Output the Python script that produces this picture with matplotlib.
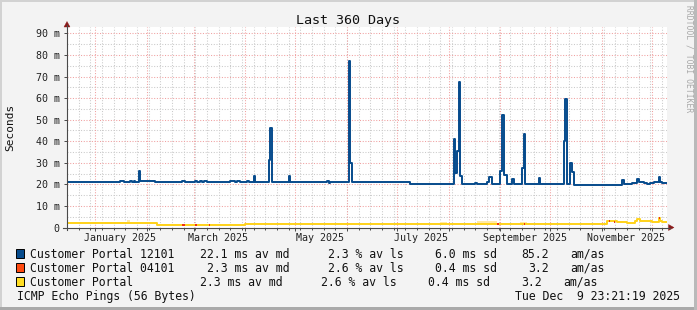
import numpy as np
import matplotlib
matplotlib.use('Agg')
import matplotlib.pyplot as plt
import matplotlib.dates as mdates
from matplotlib.patches import Rectangle, Polygon
from matplotlib.lines import Line2D

# ---------------- data ----------------
t_start = '2024-12-14T23:21'
t_end = '2025-12-09T23:21'

blue_dates = ['2024-12-15', '2025-01-16', '2025-01-18', '2025-01-22', '2025-01-23', '2025-01-24',
              '2025-01-25', '2025-01-27', '2025-01-28', '2025-02-06', '2025-02-22', '2025-02-24',
              '2025-03-02', '2025-03-03', '2025-03-05', '2025-03-06', '2025-03-07', '2025-03-09',
              '2025-03-23', '2025-03-26', '2025-03-27', '2025-03-29', '2025-04-02', '2025-04-03',
              '2025-04-06', '2025-04-07', '2025-04-15', '2025-04-16', '2025-04-17', '2025-04-27',
              '2025-04-28', '2025-05-20', '2025-05-21', '2025-05-22', '2025-06-02', '2025-06-03',
              '2025-06-04', '2025-07-09', '2025-07-17', '2025-07-21', '2025-07-23', '2025-07-24',
              '2025-07-28', '2025-07-31', '2025-08-02', '2025-08-03', '2025-08-04', '2025-08-05',
              '2025-08-06', '2025-08-07', '2025-08-08', '2025-08-09', '2025-08-17', '2025-08-18',
              '2025-08-24', '2025-08-25', '2025-08-27', '2025-09-01', '2025-09-02', '2025-09-03',
              '2025-09-05', '2025-09-08', '2025-09-09', '2025-09-14', '2025-09-15', '2025-09-16',
              '2025-09-24', '2025-09-25', '2025-10-09', '2025-10-10', '2025-10-11', '2025-10-13',
              '2025-10-14', '2025-10-15', '2025-11-13', '2025-11-14', '2025-11-19', '2025-11-22',
              '2025-11-23', '2025-11-26', '2025-11-28', '2025-11-30', '2025-12-02', '2025-12-05',
              '2025-12-06', '2025-12-07', '2025-12-09T18:00']
blue_vals = [21.0, 21.5, 21.0, 21.5, 21.0, 21.8,
             21.0, 26.0, 21.4, 21.0, 21.4, 21.0,
             21.4, 21.0, 21.4, 21.0, 21.4, 21.0,
             21.4, 21.0, 21.4, 21.0, 21.4, 21.0,
             23.7, 21.0, 31.4, 46.3, 21.0, 24.0,
             21.0, 21.7, 20.6, 21.0, 77.0, 29.7,
             21.0, 20.0, 20.4, 20.0, 20.4, 20.0,
             20.4, 20.0, 20.4, 20.0, 41.2, 25.4,
             35.6, 67.3, 24.0, 20.2, 20.5, 20.2,
             21.0, 23.5, 20.2, 26.4, 52.0, 24.5,
             20.2, 22.3, 20.2, 27.7, 43.2, 20.2,
             22.8, 20.2, 39.9, 59.7, 20.2, 29.7,
             25.7, 19.9, 22.1, 20.2, 20.6, 22.4,
             21.2, 20.6, 20.2, 20.8, 21.1, 23.2,
             21.3, 20.6, 20.6]

yel_dates = ['2024-12-15', '2024-12-21', '2024-12-23', '2025-02-07', '2025-04-01', '2025-11-04',
             '2025-11-10', '2025-11-16', '2025-11-21', '2025-11-22', '2025-11-24', '2025-12-01',
             '2025-12-05', '2025-12-06', '2025-12-07', '2025-12-09T18:00']
yel_vals = [2.0, 2.3, 2.0, 1.3, 1.8, 3.1,
            2.6, 2.3, 3.0, 4.0, 3.0, 2.6,
            4.5, 3.2, 2.6, 2.6]

# pale band patches around the yellow line
band_start = ['2024-12-29', '2025-01-07', '2025-01-15', '2025-01-20', '2025-01-31', '2025-02-07',
              '2025-04-04', '2025-04-20', '2025-05-16', '2025-07-27', '2025-08-18', '2025-09-13',
              '2025-09-25', '2025-10-18']
band_end = ['2025-01-01', '2025-01-11', '2025-01-19', '2025-01-22', '2025-02-07', '2025-02-15',
            '2025-04-14', '2025-04-26', '2025-06-01', '2025-07-31', '2025-08-30', '2025-09-17',
            '2025-10-03', '2025-10-31']
band_top = [2.4, 2.5, 2.5, 3.3, 2.3, 1.8, 2.2, 2.2, 2.2, 2.4, 2.9, 2.4, 2.3, 2.1]
band_bot = [1.6, 1.6, 1.6, 1.6, 1.5, 1.0, 1.4, 1.4, 1.4, 1.4, 1.4, 1.4, 1.4, 1.4]

# visible bits of the red (04101) series
red_start = ['2025-02-22', '2025-03-02', '2025-03-10', '2025-08-30', '2025-09-15', '2025-11-05',
             '2025-11-08', '2025-12-05']
red_end = ['2025-02-24', '2025-03-03', '2025-03-11', '2025-08-31', '2025-09-16', '2025-11-06',
           '2025-11-09', '2025-12-06']
red_vals = [1.3, 1.3, 1.3, 1.8, 1.8, 3.1, 2.6, 4.5]

y_ticks = [0, 10, 20, 30, 40, 50, 60, 70, 80, 90]
y_labels = ['0', '10 m', '20 m', '30 m', '40 m', '50 m', '60 m', '70 m', '80 m', '90 m']
month_label_dates = ['2025-01-15T12:00', '2025-03-15T12:00', '2025-05-15T12:00',
                     '2025-07-15T12:00', '2025-09-15T12:00', '2025-11-15T12:00']
month_labels = ['January 2025', 'March 2025', 'May 2025', 'July 2025',
                'September 2025', 'November 2025']

legend_names = ['Customer Portal 12101', 'Customer Portal 04101', 'Customer Portal']
legend_md = ['22.1 ms av md', '2.3 ms av md', '2.3 ms av md']
legend_ls = ['2.3 % av ls', '2.6 % av ls', '2.6 % av ls']
legend_sd = ['6.0 ms sd', '0.4 ms sd', '0.4 ms sd']
legend_amas = ['85.2', '3.2', '3.2']

# ---------------- style ----------------
W, H = 697, 310
BG = '#F3F3F3'
MONO = 'DejaVu Sans Mono'
BLUE = '#064B8C'
YEL = '#FFD21A'
PALE = '#FFE9A6'
RED = '#F03010'
AXC = '#4A4A4A'
ARROW = '#8A1A1A'
MINOR = '#CACACA'
MAJOR = '#F0A0A0'

def d(s):
    return mdates.date2num(np.datetime64(s, 'm'))

def dn(lst):
    return np.array([d(s) for s in lst])

fig = plt.figure(figsize=(W / 100, H / 100), dpi=100, facecolor=BG)

def fx(x):
    return x / W

def fy(y):
    return 1 - y / H

AX_L, AX_R, AX_B, AX_T = 67, 667, 227.5, 27
ax = fig.add_axes([fx(AX_L), fy(AX_B), (AX_R - AX_L) / W, (AX_B - AX_T) / H])
ax.set_facecolor('white')
for s in ax.spines.values():
    s.set_visible(False)

x0, x1 = d(t_start), d(t_end)
YTOP = 93.0
ax.set_xlim(x0, x1)
ax.set_ylim(0, YTOP)

# grid
weeks = np.arange(np.datetime64('2024-12-15'), np.datetime64('2025-12-10'), np.timedelta64(7, 'D'))
months = np.arange(np.datetime64('2025-01'), np.datetime64('2026-01'), dtype='datetime64[M]').astype('datetime64[D]')
wk = np.array([mdates.date2num(w) for w in weeks])
mo = np.array([mdates.date2num(m) for m in months])
dots = (0, (1, 1.6))
ax.vlines(wk, 0, YTOP, colors=MINOR, linestyles=dots, lw=0.75, zorder=1)
ax.hlines([5, 15, 25, 35, 45, 55, 65, 75, 85], x0, x1, colors=MINOR, linestyles=dots, lw=0.75, zorder=1)
ax.vlines(mo, 0, YTOP, colors=MAJOR, linestyles=dots, lw=0.75, zorder=1.2)
ax.hlines(y_ticks[1:], x0, x1, colors=MAJOR, linestyles=dots, lw=0.75, zorder=1.2)

# data
for s, e, t, b in zip(band_start, band_end, band_top, band_bot):
    ax.fill_between([d(s), d(e)], [b, b], [t, t], color=PALE, lw=0, zorder=2)
ax.step(dn(yel_dates), yel_vals, where='post', color=YEL, lw=1.4, zorder=3)
for s, e, v in zip(red_start, red_end, red_vals):
    ax.hlines(v, d(s), d(e), colors=RED, lw=1.4, zorder=3.5)
ax.step(dn(blue_dates), blue_vals, where='post', color=BLUE, lw=1.4, zorder=5)

# ticks
ax.set_xticks(mo)
ax.set_xticks(wk, minor=True)
ax.tick_params(axis='x', which='major', length=2.5, width=0.7, color=AXC, direction='out', labelbottom=False)
ax.tick_params(axis='x', which='minor', length=1.5, width=0.7, color=AXC, direction='out')
ax.set_yticks(y_ticks)
ax.set_yticklabels(y_labels, fontsize=7.2, family=MONO, color='#222222')
ax.tick_params(axis='y', which='major', length=2.2, width=0.7, color=AXC, pad=3.2)

for ds, lab in zip(month_label_dates, month_labels):
    ax.text(d(ds), -(241 - AX_B) / (AX_B - AX_T), lab, transform=ax.get_xaxis_transform(),
            ha='center', va='baseline', fontsize=7.2, family=MONO, color='#222222')

# axes lines and arrows
fig.add_artist(Line2D([fx(67), fx(67)], [fy(AX_B + 2), fy(25)], color=AXC, lw=0.8))
fig.add_artist(Line2D([fx(63), fx(670)], [fy(AX_B), fy(AX_B)], color=AXC, lw=0.8))
fig.add_artist(Polygon([[fx(64), fy(27)], [fx(70), fy(27)], [fx(67), fy(21.5)]],
                       closed=True, transform=fig.transFigure, fc=ARROW, ec=ARROW, lw=0.3))
fig.add_artist(Polygon([[fx(668.5), fy(AX_B - 3)], [fx(668.5), fy(AX_B + 3)], [fx(674), fy(AX_B)]],
                       closed=True, transform=fig.transFigure, fc=ARROW, ec=ARROW, lw=0.3))

# titles
fig.text(0.5, fy(24), 'Last 360 Days', ha='center', va='baseline', fontsize=9.6, family=MONO, color='#111111')
fig.text(fx(10), fy(127), 'Seconds', rotation=90, ha='center', va='center', fontsize=8, family=MONO, color='#111111')
fig.text(fx(688.5), fy(5), 'RRDTOOL / TOBI OETIKER', rotation=270, ha='center', va='top',
         fontsize=5.8, family=MONO, color='#A8A8A8')

# legend
colors = [BLUE, '#FF4A10', '#FFDD22']
baselines = [257.5, 271.8, 285.8]
xs_md = [200, 207, 200]
xs_ls = [328, 328, 321]
xs_sd = [435, 435, 428]
xs_am = [521, 528, 521]
xs_as = [570, 570, 563]
FS = 8.3
for i in range(3):
    by = baselines[i]
    fig.add_artist(Rectangle((fx(15.5), fy(by)), 8.5 / W, 8.8 / H, transform=fig.transFigure,
                             fc=colors[i], ec='#000000', lw=0.7))
    fig.text(fx(30), fy(by), legend_names[i], ha='left', va='baseline', fontsize=FS, family=MONO, color='#111111')
    fig.text(fx(xs_md[i]), fy(by), legend_md[i], ha='left', va='baseline', fontsize=FS, family=MONO, color='#111111')
    fig.text(fx(xs_ls[i]), fy(by), legend_ls[i], ha='left', va='baseline', fontsize=FS, family=MONO, color='#111111')
    fig.text(fx(xs_sd[i]), fy(by), legend_sd[i], ha='left', va='baseline', fontsize=FS, family=MONO, color='#111111')
    fig.text(fx(xs_am[i]), fy(by), legend_amas[i], ha='left', va='baseline', fontsize=FS, family=MONO, color='#111111')
    fig.text(fx(xs_as[i]), fy(by), 'am/as', ha='left', va='baseline', fontsize=FS, family=MONO, color='#111111')

fig.text(fx(17), fy(300), 'ICMP Echo Pings (56 Bytes)', ha='left', va='baseline', fontsize=FS, family=MONO, color='#111111')
fig.text(fx(680), fy(300), 'Tue Dec  9 23:21:19 2025', ha='right', va='baseline', fontsize=FS, family=MONO, color='#111111')

# frame
fig.add_artist(Rectangle((0, fy(2)), 1, 2 / H, transform=fig.transFigure, fc='#D2D2D2', ec='none'))
fig.add_artist(Rectangle((0, 0), 2 / W, 1, transform=fig.transFigure, fc='#D2D2D2', ec='none'))
fig.add_artist(Rectangle((0, 0), 1, 3 / H, transform=fig.transFigure, fc='#A9A9A9', ec='none'))
fig.add_artist(Rectangle((fx(694), 0), 3 / W, 1, transform=fig.transFigure, fc='#B9B9B9', ec='none'))

fig.savefig('out.png', dpi=100, facecolor=BG)
